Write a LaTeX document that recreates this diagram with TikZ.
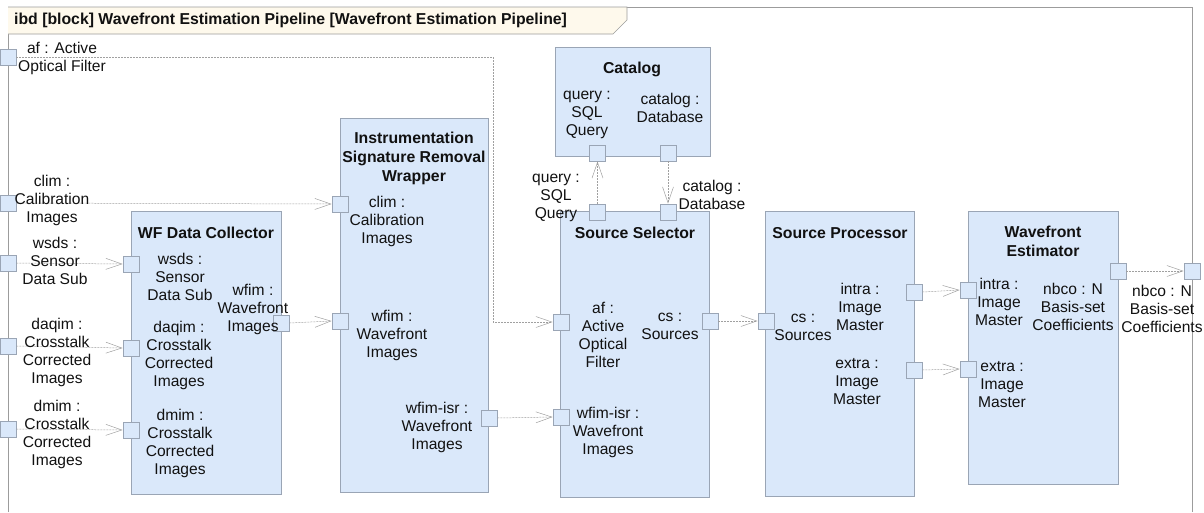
\documentclass[tikz,border=0pt]{standalone}
\usepackage{fontspec}
\setmainfont{Liberation Sans}
\usetikzlibrary{arrows.meta}
\definecolor{blockfill}{HTML}{DAE8FA}
\definecolor{blockline}{HTML}{9AA5B5}
\definecolor{framegray}{HTML}{9C9C9C}
\definecolor{headfill}{HTML}{FEF9EC}
\definecolor{conngray}{HTML}{A0A0A0}
\definecolor{textink}{HTML}{111111}

\begin{document}
\begin{tikzpicture}[x=1pt, y=-1pt,
  every node/.style={textink, font=\fontsize{15.6}{18}\selectfont, align=center, inner sep=0pt},
  block/.style={draw=blockline, fill=blockfill, line width=0.8pt, rectangle},
  port/.style={draw=blockline, fill=blockfill, line width=0.8pt, minimum size=16pt},
  blocktitle/.style={font=\fontsize{15.8}{19}\selectfont\bfseries},
  conn/.style={conngray, line width=0.5pt, dash pattern=on 2pt off 1pt,
               -{Straight Barb[length=16pt, width=11pt]}}]

  \useasboundingbox (0,0) rectangle (1204,512);

  %% the ibd frame and its header tab
  \draw[framegray, line width=0.8pt] (8,512) -- (8,7) -- (1192,7) -- (1192,512);
  \filldraw[fill=headfill, draw=framegray, line width=0.6pt]
    (8,7) -- (627,7) -- (627,20) -- (613,34) -- (8,34);
  \node[anchor=west, blocktitle] (diagtitle) at (14,20)
    {ibd [block] Wavefront Estimation Pipeline [Wavefront Estimation Pipeline]};

  %% parts
  \node[block, minimum width=150pt, minimum height=283pt] (wfdc) at (206,352.5) {};
  \node[block, minimum width=148pt, minimum height=374pt] (isr) at (414,305) {};
  \node[block, minimum width=155pt, minimum height=109pt] (cat) at (632.5,101.5) {};
  \node[block, minimum width=149pt, minimum height=286pt] (ss) at (634.5,354) {};
  \node[block, minimum width=149pt, minimum height=285pt] (sp) at (839.5,353.5) {};
  \node[block, minimum width=150pt, minimum height=273pt] (we) at (1043,347.5) {};

  \node[blocktitle] (wfdc-title) at (206,233) {WF Data Collector};
  \node[blocktitle] (isr-title) at (414,158) {Instrumentation\\Signature Removal\\Wrapper};
  \node[blocktitle] (cat-title) at (632,69) {Catalog};
  \node[blocktitle] (ss-title) at (635,233) {Source Selector};
  \node[blocktitle] (sp-title) at (840,233) {Source Processor};
  \node[blocktitle] (we-title) at (1043,241) {Wavefront\\Estimator};

  %% ports on the frame
  \node[port] (sys-af) at (8,57) {};
  \node[port] (sys-clim) at (8,203) {};
  \node[port] (sys-wsds) at (8,263) {};
  \node[port] (sys-daqim) at (8,346) {};
  \node[port] (sys-dmim) at (8,429) {};
  \node[port] (sys-nbco) at (1192,271) {};

  %% ports on the parts
  \node[port] (wfdc-wsds) at (131,264) {};
  \node[port] (wfdc-daqim) at (131,348) {};
  \node[port] (wfdc-dmim) at (131,430) {};
  \node[port] (wfdc-wfim) at (281,323) {};
  \node[port] (isr-clim) at (340,204) {};
  \node[port] (isr-wfim) at (340,321) {};
  \node[port] (isr-wfimisr) at (489,418) {};
  \node[port] (cat-query) at (597.5,153) {};
  \node[port] (cat-catalog) at (668,153) {};
  \node[port] (ss-query) at (597.5,212) {};
  \node[port] (ss-catalog) at (668,212) {};
  \node[port] (ss-af) at (561,322) {};
  \node[port] (ss-wfimisr) at (561,417) {};
  \node[port] (ss-cs) at (710,321) {};
  \node[port] (sp-cs) at (766,321) {};
  \node[port] (sp-intra) at (914,292) {};
  \node[port] (sp-extra) at (914,370) {};
  \node[port] (we-intra) at (968,290) {};
  \node[port] (we-extra) at (968,369) {};
  \node[port] (we-nbco) at (1118,271) {};

  %% connectors
  \coordinate (afbend) at (493,57);
  \draw[conn] (sys-af.east) -- (afbend) |- (ss-af.west);
  \draw[conn] (sys-clim.east) -- (isr-clim.west);
  \draw[conn] (sys-wsds.east) -- (wfdc-wsds.west);
  \draw[conn] (sys-daqim.east) -- (wfdc-daqim.west);
  \draw[conn] (sys-dmim.east) -- (wfdc-dmim.west);
  \draw[conn] (wfdc-wfim.east) -- (isr-wfim.west);
  \draw[conn] (isr-wfimisr.east) -- (ss-wfimisr.west);
  \draw[conn] (ss-query.north) -- (cat-query.south);
  \draw[conn] (cat-catalog.south) -- (ss-catalog.north);
  \draw[conn] (ss-cs.east) -- (sp-cs.west);
  \draw[conn] (sp-intra.east) -- (we-intra.west);
  \draw[conn] (sp-extra.east) -- (we-extra.west);
  \draw[conn] (we-nbco.east) -- (sys-nbco.west);

  %% port labels, frame
  \node (sys-af-lbl) at (62,58) {af : Active\\Optical Filter};
  \node (sys-clim-lbl) at (52,200) {clim :\\Calibration\\Images};
  \node (sys-wsds-lbl) at (55,261) {wsds :\\Sensor\\Data Sub};
  \node (sys-daqim-lbl) at (57,352) {daqim :\\Crosstalk\\Corrected\\Images};
  \node (sys-dmim-lbl) at (57,434) {dmim :\\Crosstalk\\Corrected\\Images};
  \node (sys-nbco-lbl) at (1162,309) {nbco : N\\Basis-set\\Coefficients};

  %% port labels, parts
  \node (wfdc-wsds-lbl) at (180,277) {wsds :\\Sensor\\Data Sub};
  \node (wfdc-wfim-lbl) at (253,309) {wfim :\\Wavefront\\Images};
  \node (wfdc-daqim-lbl) at (179,355) {daqim :\\Crosstalk\\Corrected\\Images};
  \node (wfdc-dmim-lbl) at (180,443) {dmim :\\Crosstalk\\Corrected\\Images};
  \node (isr-clim-lbl) at (387,221) {clim :\\Calibration\\Images};
  \node (isr-wfim-lbl) at (392,335) {wfim :\\Wavefront\\Images};
  \node (isr-wfimisr-lbl) at (437,427) {wfim-isr :\\Wavefront\\Images};
  \node (cat-query-lbl) at (587,115) {query :\\SQL\\Query};
  \node (cat-catalog-lbl) at (670,108) {catalog :\\Database};
  \node (ss-query-lbl) at (556,198) {query :\\SQL\\Query};
  \node (ss-catalog-lbl) at (712,195) {catalog :\\Database};
  \node (ss-af-lbl) at (603,335) {af :\\Active\\Optical\\Filter};
  \node (ss-cs-lbl) at (670,326) {cs :\\Sources};
  \node (ss-wfimisr-lbl) at (608,432) {wfim-isr :\\Wavefront\\Images};
  \node (sp-cs-lbl) at (803,327) {cs :\\Sources};
  \node (sp-intra-lbl) at (860,307) {intra :\\Image\\Master};
  \node (sp-extra-lbl) at (857,382) {extra :\\Image\\Master};
  \node (we-intra-lbl) at (999,302) {intra :\\Image\\Master};
  \node (we-extra-lbl) at (1002,385) {extra :\\Image\\Master};
  \node (we-nbco-lbl) at (1073,307) {nbco : N\\Basis-set\\Coefficients};

\end{tikzpicture}
\end{document}
